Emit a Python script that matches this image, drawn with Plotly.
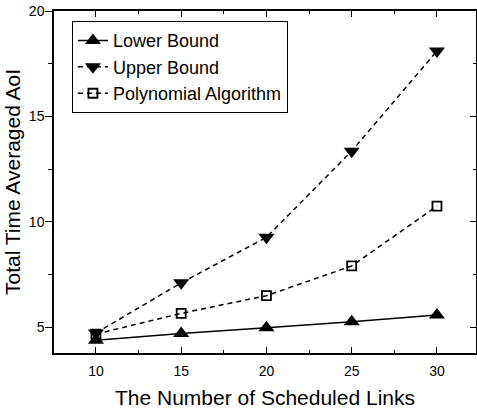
import plotly.graph_objects as go

links = [10, 15, 20, 25, 30]
lower_bound = [4.38, 4.70, 4.97, 5.25, 5.57]
upper_bound = [4.72, 7.10, 9.26, 13.35, 18.10]
poly_alg = [4.67, 5.65, 6.49, 7.90, 10.74]

fig = go.Figure()
fig.add_trace(go.Scatter(x=links, y=lower_bound, name="Lower Bound", mode="lines+markers",
                         line=dict(color="black", width=1.5),
                         marker=dict(symbol="triangle-up", size=14, color="black")))
fig.add_trace(go.Scatter(x=links, y=upper_bound, name="Upper Bound", mode="lines+markers",
                         line=dict(color="black", width=1.5, dash="5px,4px"),
                         marker=dict(symbol="triangle-down", size=14, color="black")))
fig.add_trace(go.Scatter(x=links, y=poly_alg, name="Polynomial Algorithm", mode="lines+markers",
                         line=dict(color="black", width=1.5, dash="5px,4px"),
                         marker=dict(symbol="square-open", size=9, color="black",
                                     line=dict(width=1.8, color="black"))))
# invisible trace to anchor mirrored axes
fig.add_trace(go.Scatter(x=[links[0]], y=[lower_bound[0]], xaxis="x2", yaxis="y2",
                         mode="markers", marker=dict(opacity=0), showlegend=False,
                         hoverinfo="skip"))

xr = [7.54, 32.29]
yr = [3.77, 20]

fig.update_layout(
    width=477, height=410,
    margin=dict(l=54, r=1, t=11, b=57, autoexpand=False),
    plot_bgcolor="white", paper_bgcolor="white",
    font=dict(family="Liberation Sans, Arial", size=14, color="black"),
    showlegend=True,
    legend=dict(x=0.0425, y=0.97, xanchor="left", yanchor="top",
                bordercolor="black", borderwidth=1, bgcolor="white",
                font=dict(family="Liberation Sans, Arial", size=18, color="black"),
                tracegroupgap=0, itemwidth=30),
    xaxis=dict(range=xr, tickvals=links, ticks="inside", ticklen=6, tickwidth=1,
               tickcolor="black", showline=True, linecolor="black", linewidth=1.5,
               showgrid=False, zeroline=False, automargin=False, ticklabelstandoff=4,
               minor=dict(dtick=2.5, tick0=0, ticks="inside", ticklen=3, tickcolor="black", showgrid=False),
               title=dict(text="The Number of Scheduled Links", font=dict(size=21), standoff=13),
               tickfont=dict(size=14)),
    yaxis=dict(range=yr, tickvals=[5, 10, 15, 20], ticks="outside", ticklen=7, tickwidth=1,
               tickcolor="black", showline=True, linecolor="black", linewidth=1.5,
               showgrid=False, zeroline=False, automargin=False, ticklabelstandoff=-2,
               ticklabeloverflow="allow",
               minor=dict(dtick=2.5, tick0=0, ticks="outside", ticklen=4, tickcolor="black", showgrid=False),
               title=dict(text="Total Time Averaged AoI", font=dict(size=21), standoff=3),
               tickfont=dict(size=14)),
    xaxis2=dict(range=xr, overlaying="x", side="top", anchor="y", tickvals=links,
                ticks="inside", ticklen=6, tickcolor="black", showticklabels=False,
                showline=True, linecolor="black", linewidth=1.5, showgrid=False, zeroline=False,
                automargin=False,
                minor=dict(dtick=2.5, tick0=0, ticks="inside", ticklen=3, tickcolor="black", showgrid=False)),
    yaxis2=dict(range=yr, overlaying="y", side="right", anchor="x", tickvals=[5, 10, 15, 20],
                ticks="inside", ticklen=6, tickcolor="black", showticklabels=False,
                showline=True, linecolor="black", linewidth=1.5, showgrid=False, zeroline=False,
                automargin=False,
                minor=dict(dtick=2.5, tick0=0, ticks="inside", ticklen=3, tickcolor="black", showgrid=False)),
)

# remove the page's default 8px body margin so the figure sits at the window origin
fig.write_html("out.html", config={"displayModeBar": False},
               post_script="document.body.style.margin='0px';")
